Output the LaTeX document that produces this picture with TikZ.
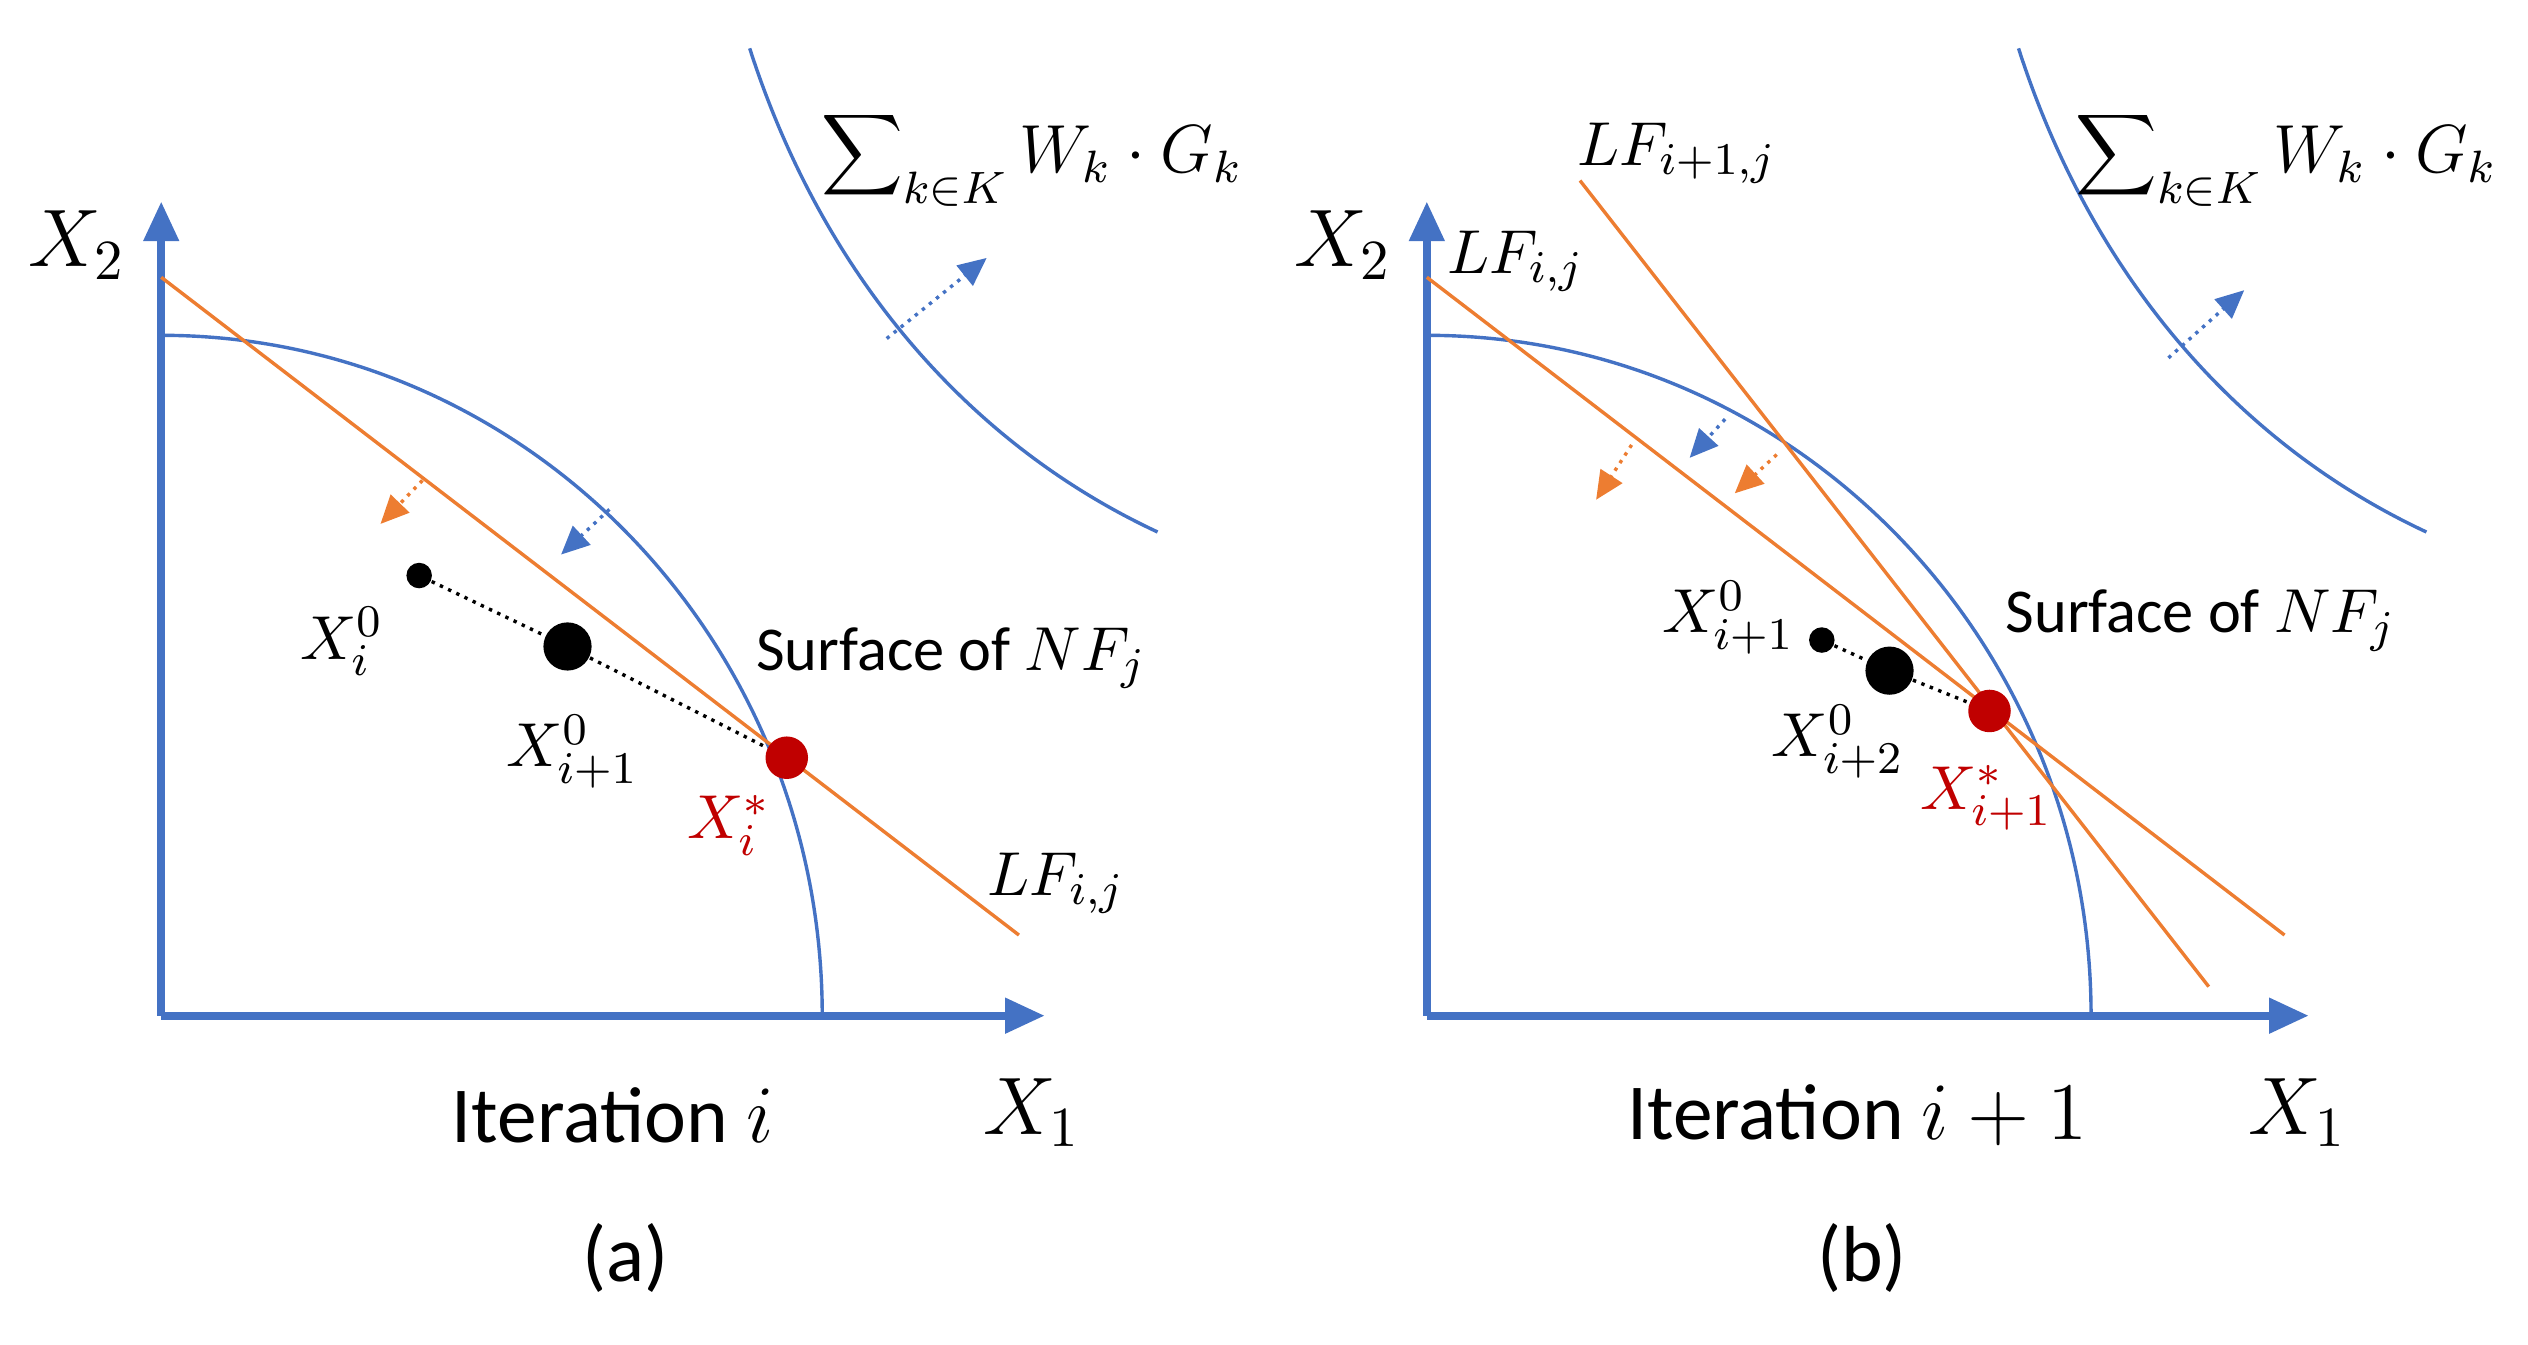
\documentclass[tikz,border=0pt]{standalone}
\usepackage{fontspec}
\setmainfont{Carlito}
\usetikzlibrary{arrows.meta}
\definecolor{bl}{HTML}{4472C4}
\definecolor{orr}{HTML}{ED7D31}
\definecolor{rd}{HTML}{C00000}
\begin{document}
\begin{tikzpicture}[x=0.01cm,y=0.01cm,
 axis/.style={bl,line width=1.4pt,-{Triangle[length=7pt,width=6pt]}},
 curve/.style={bl,line width=0.6pt},
 lf/.style={orr,line width=0.6pt},
 barr/.style={bl,line width=0.6pt,densely dotted,-{Triangle[length=5pt,width=4.5pt]}},
 oarr/.style={orr,line width=0.6pt,densely dotted,-{Triangle[length=5pt,width=4.5pt]}},
 big/.style={font=\fontsize{14}{16}\selectfont},
 sumf/.style={font=\fontsize{11.5}{13}\selectfont},
 mid/.style={font=\fontsize{11}{13}\selectfont},
 sm/.style={font=\fontsize{11}{13}\selectfont},
 ttl/.style={font=\fontsize{14}{16}\selectfont},
 dot/.style={circle,fill=black,inner sep=0pt}]
\useasboundingbox (0,0) rectangle (1568,834);
% ---------- panel (a)
\coordinate (o1) at (100,204);
\coordinate (y1) at (100,709);
\coordinate (x1) at (648,204);
\draw[axis] (o1)--(y1);
\draw[axis] (o1)--(x1);
\draw[curve] (100,626) arc[start angle=90,end angle=0,x radius=410,y radius=422];
\coordinate (la1) at (100,662); \coordinate (lb1) at (632,254);
\draw[lf] (la1)--(lb1);
\draw[curve] (465,804) .. controls (510,664) and (600,559) .. (718,504);
\coordinate (ba1) at (550,624); \coordinate (bb1) at (612,674);
\draw[barr] (ba1)--(bb1);
\coordinate (ba2) at (378,518); \coordinate (bb2) at (348,490);
\draw[barr] (ba2)--(bb2);
\coordinate (oa1) at (262,536); \coordinate (ob1) at (236,509);
\draw[oarr] (oa1)--(ob1);
\node[dot,minimum size=4.5pt] (s1) at (260,477) {};
\node[dot,minimum size=8.5pt] (g1) at (352,433) {};
\node[circle,fill=rd,inner sep=0pt,minimum size=7.5pt] (r1) at (488,364) {};
\draw[densely dotted,line width=0.6pt] (s1)--(g1)--(r1);
\node[big] (X2a) at (48,682) {$X_2$};
\node[big] (X1a) at (640,144) {$X_1$};
\node[mid] (xi0) at (212,436) {$X_i^0$};
\node[mid] (xi10) at (355,368) {$X_{i+1}^0$};
\node[mid,text=rd] (xis) at (452,322) {$X_i^*$};
\node[sm] (sfa) at (590,426) {Surface of $NF_j$};
\node[mid] (lfa) at (655,286) {$LF_{i,j}$};
\node[sumf] (suma) at (640,736) {$\displaystyle\sum\nolimits_{k\in K} W_k\cdot G_k$};
\node[ttl] (ita) at (380,142) {Iteration $i$};
\node[ttl] (pa) at (388,54) {(a)};
% ---------- panel (b)
\coordinate (o2) at (885,204);
\coordinate (y2) at (885,709);
\coordinate (x2) at (1432,204);
\draw[axis] (o2)--(y2);
\draw[axis] (o2)--(x2);
\draw[curve] (885,626) arc[start angle=90,end angle=0,x radius=412,y radius=422];
\coordinate (la2) at (885,662); \coordinate (lb2) at (1417,254);
\draw[lf] (la2)--(lb2);
\coordinate (la3) at (980,722); \coordinate (lb3) at (1370,222);
\draw[lf] (la3)--(lb3);
\draw[curve] (1252,804) .. controls (1297,664) and (1387,559) .. (1505,504);
\coordinate (ba3) at (1345,612); \coordinate (bb3) at (1392,654);
\draw[barr] (ba3)--(bb3);
\coordinate (ba4) at (1070,574); \coordinate (bb4) at (1048,550);
\draw[barr] (ba4)--(bb4);
\coordinate (oa2) at (1012,558); \coordinate (ob2) at (990,524);
\draw[oarr] (oa2)--(ob2);
\coordinate (oa3) at (1102,552); \coordinate (ob3) at (1076,528);
\draw[oarr] (oa3)--(ob3);
\node[dot,minimum size=4.5pt] (s2) at (1130,437) {};
\node[dot,minimum size=8.5pt] (g2) at (1172,418) {};
\node[circle,fill=rd,inner sep=0pt,minimum size=7.5pt] (r2) at (1234,393) {};
\draw[densely dotted,line width=0.6pt] (s2)--(g2)--(r2);
\node[big] (X2b) at (833,682) {$X_2$};
\node[big] (X1b) at (1425,144) {$X_1$};
\node[mid] (xb0) at (1072,451) {$X_{i+1}^0$};
\node[mid] (xb10) at (1140,374) {$X_{i+2}^0$};
\node[mid,text=rd] (xbs) at (1232,339) {$X_{i+1}^*$};
\node[sm] (sfb) at (1365,449) {Surface of $NF_j$};
\node[mid] (lfb1) at (1040,739) {$LF_{i+1,j}$};
\node[mid] (lfb2) at (940,672) {$LF_{i,j}$};
\node[sumf] (sumb) at (1418,736) {$\displaystyle\sum\nolimits_{k\in K} W_k\cdot G_k$};
\node[ttl] (itb) at (1152,142) {Iteration $i+1$};
\node[ttl] (pb) at (1155,54) {(b)};
\end{tikzpicture}
\end{document}
